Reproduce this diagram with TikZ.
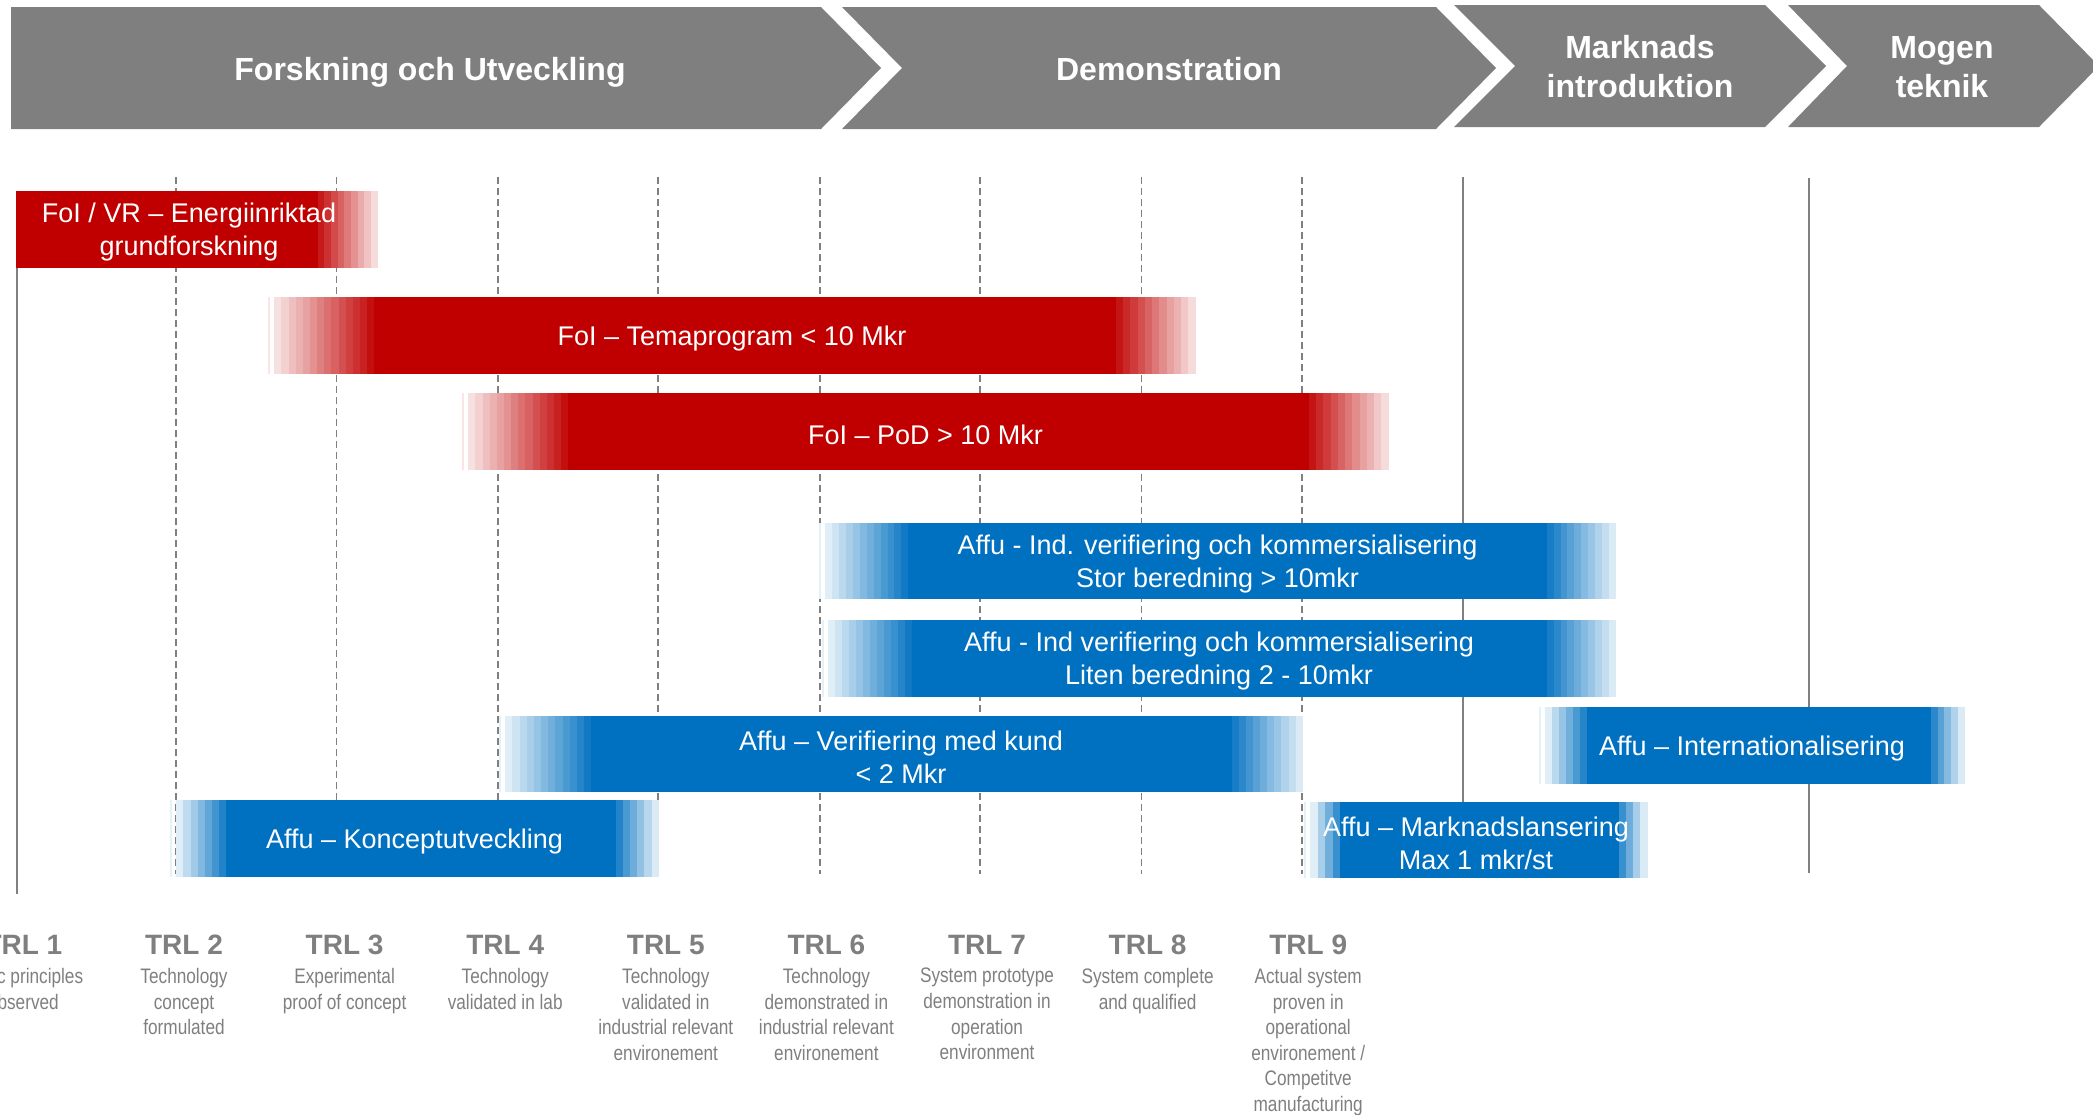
\documentclass[tikz,border=0pt]{standalone}
\usepackage{fontspec}
\setmainfont{Liberation Sans}
\newfontfamily\narrowfont{Liberation Sans}[FakeStretch=0.82]
\definecolor{headgray}{HTML}{7F7F7F}
\definecolor{linegray}{HTML}{808080}
\definecolor{barred}{HTML}{C00000}
\definecolor{barblue}{HTML}{0070C0}
\definecolor{trlgray}{HTML}{7F7F7F}
\tikzset{
 chev/.style={fill=headgray, draw=none},
 headtext/.style={text=white, font=\bfseries\fontsize{32}{39}\selectfont, align=center, inner sep=0},
 bartext/.style={text=white, font=\fontsize{27}{33}\selectfont, align=center, inner sep=0, yshift=-3pt},
 trltitle/.style={text=trlgray, font=\bfseries\fontsize{28}{32}\selectfont, inner sep=0},
 trldesc/.style={text=trlgray, font=\narrowfont\fontsize{21}{25.6}\selectfont, align=center, inner sep=0, anchor=north},
 gridsolid/.style={draw=linegray, line width=1.5pt},
 griddash/.style={draw=linegray, line width=1.5pt, dash pattern=on 7pt off 4pt},
}
% #1 node options (name=...), #2 x1, #3 x2, #4 y1, #5 y2, #6 left fade, #7 right fade, #8 colour, #9 text
\newcommand\trlbar[9]{%
  \fill[#8] ({#2+#6-0.3},#4) rectangle ({#3-#7+0.3},#5);
  \pgfmathtruncatemacro\nL{max(1,round((#6-6)/7))}%
  \pgfmathtruncatemacro\nR{max(1,round(#7/7))}%
  \ifnum#6>0
    \fill[#8!10] (#2,#4) rectangle ({#2+2},#5);
    \foreach \k in {1,...,\nL}{%
      \pgfmathtruncatemacro\pct{100-round(88*\k/\nL)}%
      \fill[#8!\pct] ({#2+6+(#6-6)*(\nL-\k)/\nL},#4) rectangle ({#2+6+(#6-6)*(\nL-\k+1)/\nL+0.3},#5);
    }%
  \fi
  \foreach \k in {1,...,\nR}{%
    \pgfmathtruncatemacro\pct{100-round(86*\k/\nR)}%
    \fill[#8!\pct] ({#3-#7+#7*(\k-1)/\nR-0.3},#4) rectangle ({#3-#7+#7*\k/\nR},#5);
  }%
  \node[bartext, #1] at ({(#2+#3)/2},{(#4+#5)/2}) {#9};
}
\begin{document}
\begin{tikzpicture}[x=1pt,y=-1pt]
\useasboundingbox (0,0) rectangle (2093,1114);
\clip (0,0) rectangle (2093,1114);

% header chevrons
\fill[chev] (11,7) -- (821,7) -- (881,68) -- (821,129) -- (11,129) -- cycle;
\fill[chev] (842,7) -- (1436,7) -- (1496,68) -- (1436,129) -- (842,129) -- (902,68) -- cycle;
\fill[chev] (1454,5) -- (1765,5) -- (1826,66) -- (1765,127) -- (1454,127) -- (1515,66) -- cycle;
\fill[chev] (1788,5) -- (2039,5) -- (2099,66) -- (2039,127) -- (1788,127) -- (1847,66) -- cycle;
\node[headtext, anchor=base] (h1) at (430,80) {Forskning och Utveckling};
\node[headtext, anchor=base] (h2) at (1169,80) {Demonstration};
\node[headtext] (h3) at (1640,67) {Marknads\\introduktion};
\node[headtext] (h4) at (1942,67) {Mogen\\teknik};

% grid lines
\coordinate (gt1) at (17,191); \coordinate (gb1) at (17,894);
\draw[gridsolid] (gt1) -- (gb1);
\foreach \i/\x in {2/176,3/336.5,4/498,5/658,6/820,7/980,8/1141.5,9/1302}{
  \coordinate (gt\i) at (\x,177); \coordinate (gb\i) at (\x,874);
  \draw[griddash] (gt\i) -- (gb\i);
}
\coordinate (gt10) at (1463,177); \coordinate (gb10) at (1463,874);
\draw[gridsolid] (gt10) -- (gb10);
\coordinate (gt11) at (1809,178); \coordinate (gb11) at (1809,873);
\draw[gridsolid] (gt11) -- (gb11);

% bars
\trlbar{name=bar1, xshift=-8pt}{16}{378}{191}{268}{0}{60}{barred}{FoI / VR – Energiinriktad\\grundforskning}
\trlbar{name=bar2}{268}{1196}{297}{374}{106}{80}{barred}{FoI – Temaprogram < 10 Mkr}
\trlbar{name=bar3}{462}{1389}{393}{470}{106}{80}{barred}{FoI – PoD > 10 Mkr}
\trlbar{name=bar4}{819}{1616}{523}{599}{89}{69}{barblue}{Affu - Ind. verifiering och kommersialisering\\Stor beredning > 10mkr}
\trlbar{name=bar5}{822}{1616}{620}{697}{90}{69}{barblue}{Affu - Ind verifiering och kommersialisering\\Liten beredning 2 - 10mkr}
\trlbar{name=bar6}{499}{1303}{716}{792}{92}{71}{barblue}{Affu – Verifiering med kund\\< 2 Mkr}
\trlbar{name=bar7}{170}{659}{800}{877}{56}{43}{barblue}{Affu – Konceptutveckling}
\trlbar{name=bar8}{1539}{1965}{707}{784}{48}{34}{barblue}{Affu – Internationalisering}
\trlbar{name=bar9}{1304}{1648}{802}{878}{36}{29}{barblue}{Affu – Marknadslansering\\Max 1 mkr/st}

% TRL labels
\foreach \k/\txt in {1/{Basic principles\\observed},
  2/{Technology\\concept\\formulated},
  3/{Experimental\\proof of concept},
  4/{Technology\\validated in lab},
  5/{Technology\\validated in\\industrial relevant\\environement},
  6/{Technology\\demonstrated in\\industrial relevant\\environement},
  7/{System prototype\\demonstration in\\operation\\environment},
  8/{System complete\\and qualified},
  9/{Actual system\\proven in\\operational\\environement /\\Competitve\\manufacturing}}{
  \pgfmathsetmacro\cx{184+(\k-2)*160.6}
  \node[trltitle] (trl\k) at (\cx,945) {TRL \k};
  \node[trldesc] (d\k) at (\cx,968) {\txt};
}
\end{tikzpicture}
\end{document}
